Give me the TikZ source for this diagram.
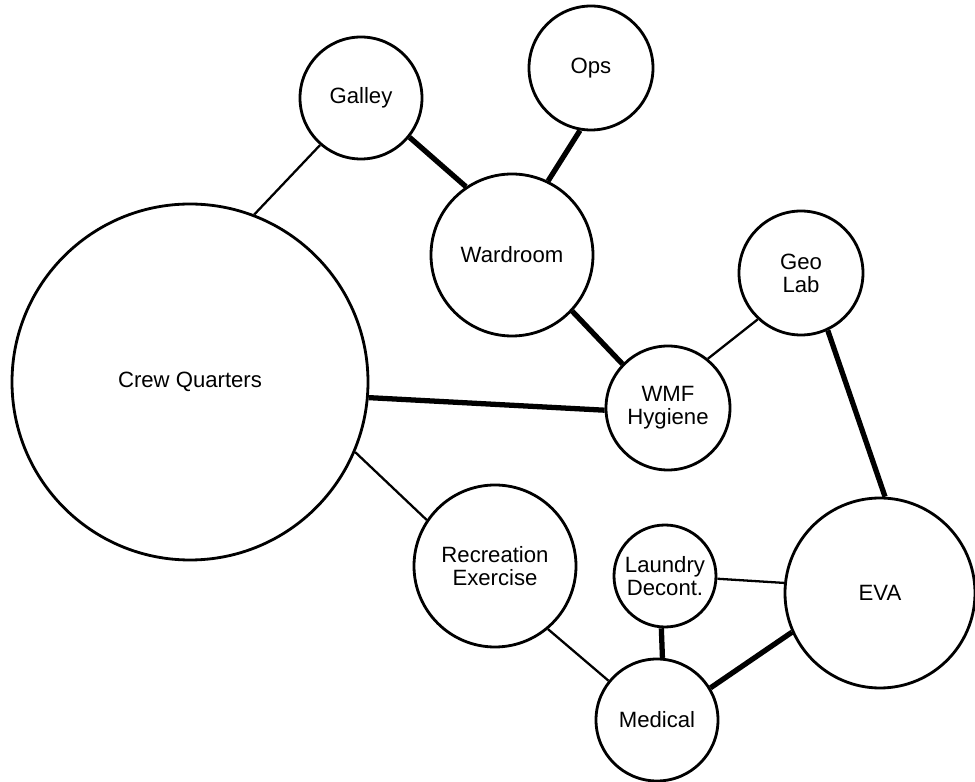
\documentclass[tikz,border=0pt]{standalone}
\usepackage{fontspec}
\setmainfont{Liberation Sans}
\usepackage{tikz}

\tikzset{
    room/.style={draw, circle, line width=0.8pt, inner sep=0pt, align=center, font=\fontsize{6.3}{6.6}\selectfont},
    link/.style={line width=0.65pt},
    strong/.style={line width=1.5pt}
}

\begin{document}
\begin{tikzpicture}
            \useasboundingbox (0,0) rectangle (9.75,7.82);
            \node[room, minimum size=3.56cm] (cq) at (1.90,4.00) {Crew Quarters};
            \node[room, minimum size=1.22cm] (galley) at (3.61,6.84) {Galley};
            \node[room, minimum size=1.24cm] (ops) at (5.91,7.14) {Ops};
            \node[room, minimum size=1.62cm] (wardroom) at (5.12,5.27) {Wardroom};
            \node[room, minimum size=1.24cm] (geolab) at (8.01,5.09) {Geo\\Lab};
            \node[room, minimum size=1.24cm] (wmf) at (6.68,3.74) {WMF\\Hygiene};
            \node[room, minimum size=1.62cm] (rec) at (4.95,2.16) {Recreation\\Exercise};
            \node[room, minimum size=1.02cm] (laundry) at (6.65,2.06) {Laundry\\Decont.};
            \node[room, minimum size=1.22cm] (medical) at (6.57,0.62) {Medical};
            \node[room, minimum size=1.90cm] (eva) at (8.80,1.89) {EVA};

            \draw[link] (cq.69.6) -- (galley.229);
            \draw[strong] (galley.321) -- (wardroom.124);
            \draw[strong] (ops.260) -- (wardroom.64);
            \draw[strong] (wardroom.317.5) -- (wmf.136);
            \draw[link] (geolab.227.5) -- (wmf.51);
            \draw[strong] (geolab.295) -- (eva.87);
            \draw[strong] (cq.-5.5) -- (wmf.182);
            \draw[link] (cq.-23.7) -- (rec.146);
            \draw[link] (rec.310) -- (medical.141);
            \draw[strong] (laundry.266) -- (medical.85);
            \draw[link] (laundry.-3) -- (eva.174);
            \draw[strong] (medical.31) -- (eva.204.4);
        \end{tikzpicture}
\end{document}
